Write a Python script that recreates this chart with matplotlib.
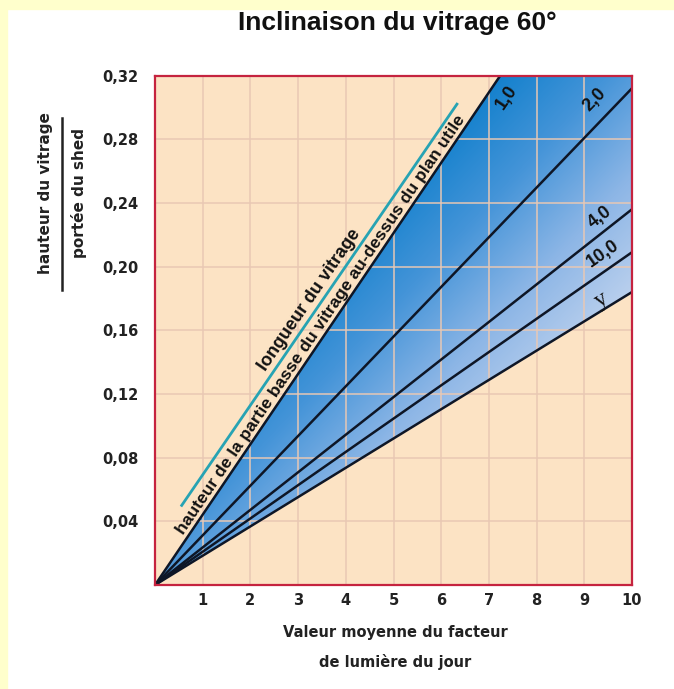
import numpy as np
import matplotlib
matplotlib.use("Agg")
import matplotlib.pyplot as plt
from matplotlib.colors import LinearSegmentedColormap
from matplotlib.patches import Polygon
from matplotlib.ticker import FixedLocator, FuncFormatter

# ---- data ----
x_range = [0, 10]
line_labels = ["1,0", "2,0", "4,0", "10,0", "y"]
line_y_at_10 = [0.442, 0.312, 0.236, 0.209, 0.184]   # straight lines from origin
label_x = [7.37, 9.22, 9.33, 9.39, 9.36]
label_y = [0.306, 0.305, 0.231, 0.208, 0.179]
teal_x = [0.56, 6.33]
teal_y = [0.050, 0.302]
x_ticks = [1, 2, 3, 4, 5, 6, 7, 8, 9, 10]
y_ticks = [0.04, 0.08, 0.12, 0.16, 0.20, 0.24, 0.28, 0.32]

FONT = ["Liberation Sans", "DejaVu Sans"]
WIDE = ["DejaVu Sans"]
plt.rcParams["font.family"] = FONT

fig = plt.figure(figsize=(6.74, 6.89), dpi=100)
fig.patch.set_facecolor("white")
# yellow strips at left and top
fig.patches.append(plt.Rectangle((0, 0), 7/674, 1, transform=fig.transFigure,
                                 color="#FFFFCC", zorder=0))
fig.patches.append(plt.Rectangle((0, 1 - 9/689), 1, 9/689, transform=fig.transFigure,
                                 color="#FFFFCC", zorder=0))

ax = fig.add_axes([155/674, 1 - 585/689, (632 - 155)/674, (585 - 75.5)/689])
ax.set_facecolor("#FCE3C4")
ax.set_xlim(0, 10)
ax.set_ylim(0, 0.32)

# gradient fill between steepest and lowest line
xx, yy = np.meshgrid(np.linspace(0, 10, 400), np.linspace(0, 0.32, 400))
u = xx / 10 - yy / 0.32
t = np.clip((u + 0.30) / 0.75, 0, 1)
cmap = LinearSegmentedColormap.from_list("g", ["#0F7FCC", "#4494D8", "#8DB6E6", "#BED2EE"])
im = ax.imshow(t, extent=[0, 10, 0, 0.32], origin="lower", cmap=cmap,
               aspect="auto", zorder=1, interpolation="bilinear")
s_top = line_y_at_10[0] / 10
s_low = line_y_at_10[-1] / 10
poly = Polygon([(0, 0), (0.32 / s_top, 0.32), (10, 0.32), (10, s_low * 10)],
               closed=True, transform=ax.transData)
im.set_clip_path(poly)

# grid
ax.xaxis.set_major_locator(FixedLocator(x_ticks))
ax.yaxis.set_major_locator(FixedLocator(y_ticks))
ax.grid(True, color="#E9C8B4", linewidth=1.2, alpha=0.9, zorder=2)
ax.set_axisbelow(False)

# lines
for yv in line_y_at_10:
    ax.plot(x_range, [0, yv], color="#0E1626", linewidth=1.8, zorder=3,
            solid_capstyle="butt")
ax.plot(teal_x, teal_y, color="#27A3B3", linewidth=2.0, zorder=3)

# line labels
for i, (lab, lx, ly) in enumerate(zip(line_labels, label_x, label_y)):
    ang = np.degrees(np.arctan(line_y_at_10[i] / 10))
    if lab == "y":
        ax.text(lx, ly, lab, fontsize=17, family=["Liberation Serif", "DejaVu Serif"],
                rotation=ang, transform_rotates_text=True, rotation_mode="anchor",
                ha="center", va="center", zorder=4, color="#111111")
    else:
        ax.text(lx, ly, lab, fontsize=13, fontweight="bold", family=FONT,
                rotation=ang, transform_rotates_text=True, rotation_mode="anchor",
                ha="center", va="center", zorder=4, color="#111111")

# text along steepest line
ang1 = np.degrees(np.arctan(s_top))
tx = 3.6
ax.text(tx, s_top * tx + 0.002, "hauteur de la partie basse du vitrage au-dessus du plan utile",
        fontsize=12.5, fontweight="bold", rotation=ang1, transform_rotates_text=True,
        rotation_mode="anchor", ha="center", va="bottom", zorder=4, color="#111111")
# text along teal line
s_teal = (teal_y[1] - teal_y[0]) / (teal_x[1] - teal_x[0])
tx2 = 3.38
ty2 = teal_y[0] + s_teal * (tx2 - teal_x[0]) + 0.003
ax.text(tx2, ty2, "longueur du vitrage", fontsize=13, fontweight="bold",
        rotation=np.degrees(np.arctan(s_teal)), transform_rotates_text=True,
        rotation_mode="anchor", ha="center", va="bottom", zorder=4, color="#111111")

# spines
for sp in ax.spines.values():
    sp.set_color("#C5233F")
    sp.set_linewidth(1.6)
    sp.set_zorder(5)

# ticks
ax.tick_params(axis="x", length=0, pad=6)
ax.tick_params(axis="y", length=0, pad=12)
ax.yaxis.set_major_formatter(FuncFormatter(lambda v, p: f"{v:.2f}".replace(".", ",")))
for lbl in ax.get_xticklabels() + ax.get_yticklabels():
    lbl.set_fontweight("bold")
    lbl.set_fontsize(10.5)
    lbl.set_family(WIDE)
    lbl.set_color("#222222")

# title
fig.text(397/674, 1 - 23/689, "Inclinaison du vitrage 60°", ha="center", va="center",
         fontsize=19, fontweight="bold", color="#111111")

# x label (two lines)
fig.text(395/674, 1 - 633/689, "Valeur moyenne du facteur", ha="center", va="center",
         fontsize=10.5, fontweight="bold", family=WIDE, color="#222222")
fig.text(395/674, 1 - 662/689, "de lumière du jour", ha="center", va="center",
         fontsize=10.5, fontweight="bold", family=WIDE, color="#222222")

# y label as a fraction
yc = 1 - 193/689
fig.text(46/674, yc, "hauteur du vitrage", rotation=90, ha="center", va="center",
         fontsize=11, fontweight="bold", family=WIDE, color="#222222")
fig.text(79/674, yc, "portée du shed", rotation=90, ha="center", va="center",
         fontsize=11, fontweight="bold", family=WIDE, color="#222222")
fig.add_artist(plt.Line2D([62/674, 62/674], [1 - 290/689, 1 - 118/689],
                          transform=fig.transFigure, color="#222222", linewidth=1.8))

fig.savefig("out.png", dpi=100, facecolor=fig.get_facecolor())
